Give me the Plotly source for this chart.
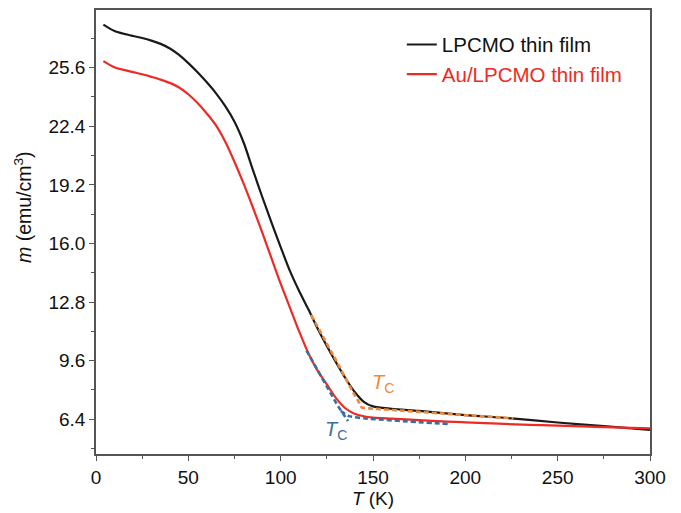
import plotly.graph_objects as go

# LPCMO thin film (black)
T_lpcmo = [4, 10, 15, 20, 25, 30, 35, 40, 45, 50, 55, 60, 65, 70, 75, 80, 85, 90, 95, 100, 105,
           110, 115, 120, 125, 130, 135, 140, 145, 150, 160, 175, 200, 225, 250, 275, 300]
m_lpcmo = [27.95, 27.6, 27.45, 27.33, 27.22, 27.08, 26.9, 26.65, 26.3, 25.85, 25.35, 24.8, 24.2,
           23.5, 22.65, 21.5, 20.0, 18.55, 17.15, 15.8, 14.5, 13.4, 12.4, 11.35, 10.4, 9.5, 8.65,
           7.9, 7.35, 7.1, 6.97, 6.85, 6.62, 6.45, 6.22, 6.02, 5.82]

# Au/LPCMO thin film (red)
T_au = [4, 10, 15, 20, 25, 30, 35, 40, 45, 50, 55, 60, 65, 70, 75, 80, 85, 90, 95, 100, 105,
        110, 115, 120, 125, 130, 135, 140, 145, 150, 160, 175, 190, 200, 235, 250, 275, 300]
m_au = [25.96, 25.62, 25.48, 25.36, 25.24, 25.1, 24.95, 24.77, 24.52, 24.15, 23.67, 23.1, 22.45,
        21.55, 20.45, 19.25, 17.95, 16.6, 15.2, 13.8, 12.5, 11.2, 10.0, 9.05, 8.3, 7.55, 7.0,
        6.7, 6.56, 6.49, 6.43, 6.35, 6.27, 6.23, 6.09, 6.05, 5.97, 5.9]

# Tc fit guides (dashed)
T_fit_lpcmo = [116.5, 129, 139.3, 142, 144, 148, 226]
m_fit_lpcmo = [12.1, 9.8, 7.85, 7.4, 7.03, 6.99, 6.45]
T_fit_au_steep = [114, 131, 136.5]
m_fit_au_steep = [10.15, 7.12, 6.3]
T_fit_au_flat = [132.5, 137, 145, 192]
m_fit_au_flat = [6.85, 6.57, 6.45, 6.13]

y_ticks = [6.4, 9.6, 12.8, 16.0, 19.2, 22.4, 25.6]
x_ticks = [0, 50, 100, 150, 200, 250, 300]

BLACK = "#1a1a1a"
RED = "#EE2A24"
ORANGE = "#F0883A"
BLUE = "#3A6E9E"
FONT = "Liberation Sans, Arial, sans-serif"

fig = go.Figure()
fig.add_trace(go.Scatter(x=T_lpcmo, y=m_lpcmo, mode="lines", name="LPCMO thin film",
                         line=dict(color=BLACK, width=2.2, shape="spline", smoothing=0.8)))
fig.add_trace(go.Scatter(x=T_au, y=m_au, mode="lines",
                         name="<span style='color:#EE2A24'>Au/LPCMO thin film</span>",
                         line=dict(color=RED, width=2.2, shape="spline", smoothing=0.8)))
fig.add_trace(go.Scatter(x=T_fit_lpcmo, y=m_fit_lpcmo, mode="lines", showlegend=False,
                         line=dict(color=ORANGE, width=2.6, dash="5px,3px", shape="spline", smoothing=0.4)))
fig.add_trace(go.Scatter(x=T_fit_au_steep, y=m_fit_au_steep, mode="lines", showlegend=False,
                         line=dict(color=BLUE, width=2.6, dash="5px,3px")))
fig.add_trace(go.Scatter(x=T_fit_au_flat, y=m_fit_au_flat, mode="lines", showlegend=False,
                         line=dict(color=BLUE, width=2.6, dash="5px,3px", shape="spline", smoothing=0.5)))

fig.add_annotation(x=155.4, y=8.35, text="<i>T</i><sub>C</sub>", showarrow=False,
                   font=dict(family=FONT, size=20, color=ORANGE))
fig.add_annotation(x=130, y=5.8, text="<i>T</i><sub>C</sub>", showarrow=False,
                   font=dict(family=FONT, size=20, color=BLUE))
fig.add_annotation(xref="paper", yref="paper", x=-0.133, y=0.557, xanchor="center", yanchor="middle",
                   textangle=-90, text="<i>m</i> (emu/cm<sup>3</sup>)", showarrow=False,
                   font=dict(family=FONT, size=19.5, color="#111"))

axis_common = dict(showgrid=False, zeroline=False, showline=True, linecolor="#555", linewidth=1.5,
                   mirror=True, ticks="outside", ticklen=5, tickwidth=1.2, tickcolor="#555",
                   tickfont=dict(family=FONT, size=19, color="#111"))

fig.update_xaxes(range=[0, 300], tickvals=x_ticks,
                 minor=dict(dtick=25, tick0=0, ticks="outside", ticklen=3, tickcolor="#555"),
                 title=dict(text="<i>T</i> (K)", font=dict(family=FONT, size=19, color="#111"),
                            standoff=4),
                 **axis_common)
fig.update_yaxes(range=[4.5, 28.75], tickvals=y_ticks, tickformat=".1f",
                 minor=dict(dtick=1.6, tick0=6.4, ticks="outside", ticklen=3, tickcolor="#555"),
                 **axis_common)

fig.update_layout(width=681, height=513, margin=dict(l=96, r=31, t=8, b=58),
                  plot_bgcolor="white", paper_bgcolor="white",
                  font=dict(family=FONT, size=19, color="#111"),
                  legend=dict(x=0.552, y=0.967, xanchor="left", yanchor="top",
                              bgcolor="rgba(0,0,0,0)", font=dict(family=FONT, size=20.5, color="#111"),
                              tracegroupgap=0))

fig.write_html("out.html")
